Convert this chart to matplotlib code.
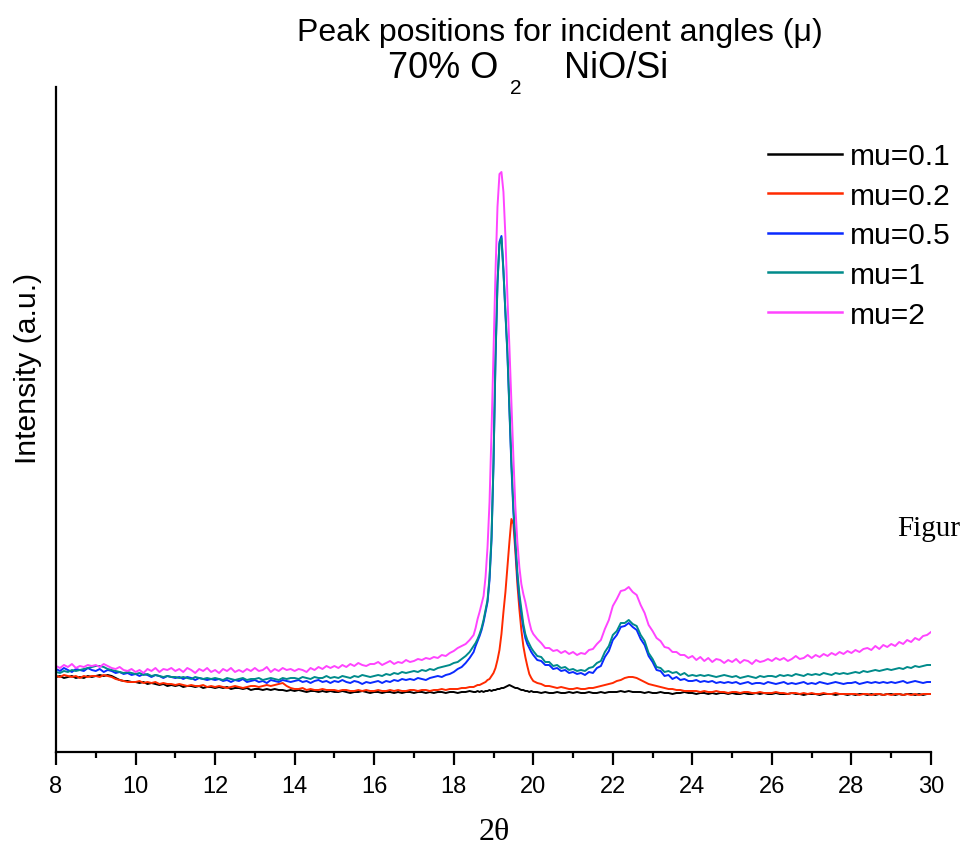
import numpy as np
import matplotlib
matplotlib.use('Agg')
import matplotlib.pyplot as plt

plt.rcParams['font.family'] = ['Liberation Sans', 'DejaVu Sans']

# 2-theta grid (degrees): 0.1 step, 0.05 step around the main peak
two_theta = np.concatenate([np.arange(80, 186) / 10,
                            np.arange(371, 400) / 20,
                            np.arange(200, 301) / 10])

mu_01 = [
    # 8.0 - 18.5
    75, 76, 74, 75, 76, 74, 75, 74, 76, 75,
    76, 77, 76, 77, 76, 74, 72, 71, 71, 70,
    70, 69, 70, 68, 69, 68, 67, 68, 66, 67,
    66, 67, 65, 66, 66, 65, 66, 64, 65, 65,
    64, 65, 64, 65, 63, 64, 64, 63, 64, 62,
    63, 63, 62, 63, 62, 63, 62, 62, 61, 62,
    61, 62, 61, 60, 61, 61, 60, 61, 60, 61,
    60, 60, 61, 60, 59, 60, 60, 61, 60, 59,
    60, 60, 59, 60, 60, 59, 60, 59, 60, 60,
    59, 60, 60, 59, 60, 59, 60, 60, 59, 60,
    60, 59, 60, 60, 61, 60,
    # 18.55 - 19.95
    60, 61, 60, 61, 60, 61, 61, 62, 61,
    62, 62, 63, 63, 64, 64, 65, 66, 67, 66,
    65, 64, 64, 63, 62, 62, 61, 61, 60, 61,
    # 20.0 - 30.0
    60, 60, 59, 60, 59, 59, 60, 59, 59, 60,
    59, 60, 59, 59, 60, 59, 59, 60, 59, 60,
    60, 60, 61, 60, 61, 60, 60, 60, 59, 60,
    59, 59, 60, 59, 59, 58, 59, 59, 60, 59,
    59, 58, 59, 59, 58, 59, 58, 59, 59, 58,
    59, 58, 58, 59, 58, 58, 59, 58, 59, 58,
    58, 59, 58, 58, 58, 59, 58, 58, 57, 58,
    58, 58, 57, 58, 58, 58, 57, 58, 58, 57,
    58, 57, 58, 58, 57, 58, 57, 58, 57, 58,
    58, 57, 58, 57, 58, 58, 57, 58, 57, 58,
    58]

mu_02 = [
    76, 75, 77, 76, 75, 76, 74, 76, 75, 76,
    76, 75, 77, 76, 75, 73, 72, 71, 70, 70,
    70, 71, 69, 70, 69, 70, 68, 69, 68, 68,
    67, 68, 67, 66, 67, 66, 66, 67, 65, 66,
    65, 66, 65, 64, 65, 66, 65, 64, 65, 66,
    66, 65, 66, 67, 66, 67, 68, 69, 66, 64,
    63, 63, 64, 62, 63, 62, 62, 63, 62, 62,
    62, 61, 62, 62, 61, 61, 62, 61, 62, 61,
    61, 62, 61, 61, 62, 61, 62, 61, 61, 62,
    62, 61, 62, 62, 61, 62, 62, 63, 62, 63,
    63, 63, 64, 64, 65, 65,
    66, 67, 67, 68, 69, 70, 72, 73, 76,
    79, 84, 92, 102, 118, 140, 160, 185, 210, 233,
    228, 200, 168, 143, 122, 106, 95, 86, 78, 74,
    71, 69, 68, 66, 66, 65, 64, 65, 64, 63,
    63, 64, 63, 63, 64, 64, 65, 66, 67, 68,
    69, 71, 72, 74, 75, 75, 74, 72, 70, 68,
    67, 66, 65, 64, 63, 63, 62, 62, 61, 61,
    61, 61, 60, 61, 60, 60, 61, 60, 60, 59,
    60, 60, 59, 60, 60, 59, 59, 60, 59, 59,
    59, 60, 59, 59, 58, 59, 59, 58, 59, 58,
    59, 58, 58, 59, 58, 58, 59, 58, 58, 58,
    58, 58, 57, 58, 58, 57, 58, 58, 57, 58,
    57, 58, 58, 57, 58, 57, 58, 57, 58, 58,
    58]

mu_05 = [
    83, 81, 84, 82, 80, 83, 82, 81, 84, 82,
    81, 83, 80, 82, 81, 79, 80, 78, 79, 77,
    78, 76, 78, 77, 75, 77, 76, 74, 76, 75,
    74, 75, 73, 75, 74, 72, 74, 73, 72, 73,
    72, 73, 71, 72, 70, 72, 71, 73, 70, 71,
    72, 70, 71, 69, 72, 71, 70, 72, 71, 70,
    71, 72, 70, 71, 69, 71, 72, 70, 71, 69,
    71, 70, 72, 70, 69, 71, 70, 68, 70, 69,
    70, 71, 69, 71, 70, 72, 71, 73, 72, 73,
    72, 74, 73, 72, 74, 75, 76, 75, 77, 78,
    80, 83, 85, 89, 94, 100,
    106, 111, 116, 122, 130, 140, 150, 172, 212,
    288, 392, 468, 510, 516, 482, 438, 398, 342, 286,
    240, 206, 175, 153, 138, 124, 114, 108, 104, 100,
    97, 92, 91, 87, 87, 83, 84, 81, 82, 79,
    80, 78, 79, 77, 80, 79, 84, 86, 95, 101,
    112, 117, 125, 126, 129, 125, 122, 113, 107, 96,
    90, 82, 81, 76, 77, 73, 75, 72, 73, 71,
    71, 72, 70, 71, 70, 71, 69, 70, 69, 70,
    69, 70, 68, 69, 70, 68, 69, 69, 68, 70,
    69, 68, 69, 70, 68, 69, 68, 69, 70, 68,
    69, 68, 70, 69, 68, 69, 70, 69, 68, 69,
    69, 70, 68, 69, 70, 69, 70, 69, 70, 69,
    70, 69, 70, 71, 69, 70, 71, 70, 69, 70,
    70]

mu_1 = [
    80, 79, 81, 80, 82, 81, 82, 83, 84, 85,
    86, 86, 85, 83, 82, 81, 80, 79, 80, 79,
    78, 79, 77, 78, 76, 77, 76, 75, 76, 75,
    75, 74, 75, 74, 73, 75, 74, 73, 74, 73,
    74, 73, 72, 74, 73, 72, 73, 74, 72, 73,
    73, 74, 72, 73, 74, 73, 72, 74, 73, 74,
    74, 73, 75, 74, 73, 75, 74, 74, 76, 74,
    75, 74, 76, 75, 74, 76, 75, 77, 76, 75,
    76, 77, 76, 78, 77, 79, 78, 80, 79, 80,
    81, 80, 82, 81, 83, 82, 84, 85, 86, 87,
    89, 90, 93, 96, 100, 106,
    109, 113, 118, 124, 132, 142, 152, 175, 215,
    290, 395, 470, 508, 514, 480, 440, 400, 345, 290,
    245, 212, 180, 158, 143, 128, 118, 112, 108, 104,
    101, 96, 95, 90, 90, 86, 87, 84, 85, 82,
    83, 81, 82, 81, 84, 85, 89, 91, 100, 106,
    117, 121, 129, 129, 132, 128, 126, 117, 111, 99,
    93, 85, 84, 80, 81, 79, 80, 77, 79, 76,
    77, 76, 77, 76, 77, 76, 75, 76, 77, 76,
    75, 76, 74, 75, 76, 75, 74, 76, 75, 76,
    76, 75, 77, 76, 77, 76, 78, 77, 76, 78,
    77, 78, 77, 79, 78, 77, 79, 78, 79, 78,
    79, 80, 79, 81, 80, 81, 82, 81, 82, 83,
    82, 83, 84, 83, 85, 84, 86, 85, 86, 87,
    87]

mu_2 = [
    86, 84, 87, 85, 88, 84, 86, 85, 87, 86,
    87, 85, 88, 86, 84, 83, 85, 82, 81, 83,
    80, 82, 79, 83, 81, 84, 80, 83, 82, 84,
    81, 83, 80, 84, 82, 79, 83, 81, 84, 80,
    82, 79, 83, 81, 84, 80, 82, 80, 83, 81,
    84, 81, 82, 85, 80, 83, 81, 84, 82, 83,
    81, 83, 82, 80, 84, 82, 85, 83, 86, 84,
    86, 84, 87, 85, 88, 86, 89, 87, 86, 88,
    88, 90, 87, 89, 91, 88, 90, 89, 92, 90,
    91, 93, 92, 94, 93, 95, 94, 97, 96, 99,
    101, 104, 106, 108, 112, 117,
    124, 133, 140, 148, 156, 175, 205, 250, 320,
    400, 480, 545, 578, 580, 560, 515, 455, 405, 350,
    295, 245, 210, 185, 168, 158, 150, 140, 130, 122,
    118, 113, 109, 104, 104, 101, 102, 99, 101, 98,
    100, 97, 99, 98, 102, 103, 108, 112, 123, 132,
    146, 153, 161, 162, 165, 160, 157, 147, 139, 127,
    121, 114, 111, 105, 104, 100, 100, 97, 97, 94,
    96, 92, 95, 91, 94, 90, 93, 92, 89, 92,
    90, 93, 89, 92, 91, 88, 92, 90, 91, 93,
    91, 94, 92, 94, 91, 93, 96, 93, 94, 97,
    94, 97, 95, 98, 96, 99, 97, 100, 98, 101,
    99, 102, 100, 103, 104, 102, 106, 103, 107, 105,
    108, 106, 110, 108, 112, 110, 114, 112, 116, 117,
    120]

series = [mu_01, mu_02, mu_05, mu_1, mu_2]
labels = ['mu=0.1', 'mu=0.2', 'mu=0.5', 'mu=1', 'mu=2']
colors = ['#000000', '#FF2A00', '#0A2AFF', '#008B8B', '#FF44FF']
major_ticks = [8, 10, 12, 14, 16, 18, 20, 22, 24, 26, 28, 30]
minor_ticks = [9, 11, 13, 15, 17, 19, 21, 23, 25, 27, 29]

W, H = 960, 854
fig = plt.figure(figsize=(W / 100, H / 100), dpi=100)
ax = fig.add_axes([56 / W, 1 - 753 / H, (931 - 56) / W, (753 - 88) / H])

for y, lab, c in zip(series, labels, colors):
    ax.plot(two_theta, np.array(y), color=c, lw=1.4, label=lab)

ax.set_xlim(8, 30)
ax.set_ylim(0, 665)
for s in ['top', 'right']:
    ax.spines[s].set_visible(False)
for s in ['left', 'bottom']:
    ax.spines[s].set_linewidth(1.6)
ax.set_yticks([])
ax.set_xticks(major_ticks)
ax.set_xticks(minor_ticks, minor=True)
ax.tick_params(axis='x', which='major', direction='out', length=9.5, width=1.6,
               pad=7, labelsize=17)
ax.tick_params(axis='x', which='minor', direction='out', length=4.5, width=1.6)

leg = ax.legend(loc='upper left', bbox_to_anchor=(768 / W, 1 - 143 / H),
                bbox_transform=fig.transFigure, frameon=False, fontsize=21.5,
                handlelength=2.48, handletextpad=0.27, borderpad=0,
                borderaxespad=0, labelspacing=0.39)
for ln in leg.get_lines():
    ln.set_linewidth(1.8)

# titles
fig.text(560 / W, 1 - 41 / H, 'Peak positions for incident angles (μ)',
         ha='center', va='baseline', fontsize=23)
fig.text(388 / W, 1 - 78 / H, '70% O', ha='left', va='baseline', fontsize=26)
fig.text(510 / W, 1 - 94 / H, '2', ha='left', va='baseline', fontsize=15)
fig.text(564 / W, 1 - 78 / H, 'NiO/Si', ha='left', va='baseline', fontsize=26)

fig.text(28 / W, 1 - 368 / H, 'Intensity (a.u.)', rotation=90,
         ha='center', va='center', fontsize=21.7)
fig.text(494 / W, 1 - 833 / H, '2θ', ha='center', va='center', fontsize=23,
         family=['Liberation Serif', 'DejaVu Serif'])
fig.text(897 / W, 1 - 536 / H, 'Figur', ha='left', va='baseline', fontsize=21,
         family=['Liberation Serif', 'DejaVu Serif'])

fig.savefig('out.png', dpi=100)
